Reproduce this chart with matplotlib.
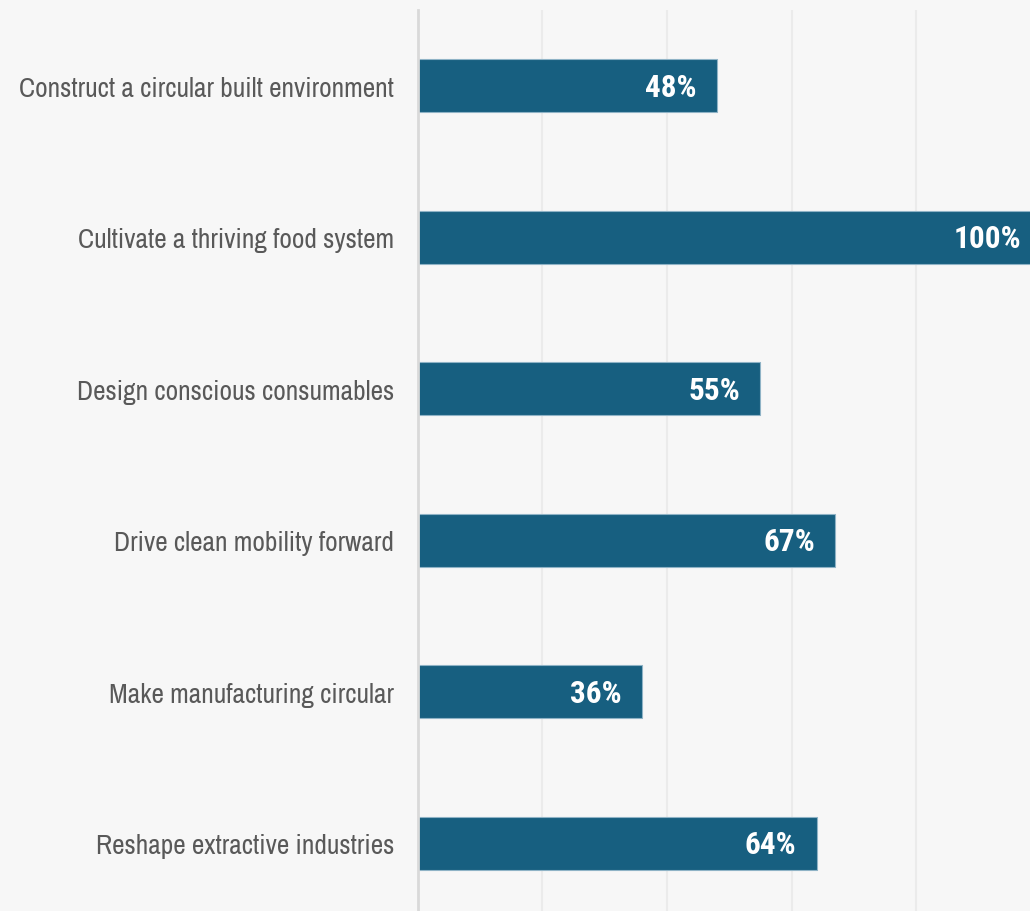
import matplotlib
matplotlib.use("Agg")
import matplotlib.pyplot as plt

# Share of companies per circular economy theme (%)
themes = [
    "Construct a circular built environment",
    "Cultivate a thriving food system",
    "Design conscious consumables",
    "Drive clean mobility forward",
    "Make manufacturing circular",
    "Reshape extractive industries",
]
shares = [48, 100, 55, 67, 36, 64]
value_labels = ["48%", "100%", "55%", "67%", "36%", "64%"]

plt.rcParams["font.family"] = ["Archivo Narrow", "Roboto Condensed", "DejaVu Sans"]

bg = "#f7f7f7"
bar_color = "#175f80"

fig = plt.figure(figsize=(10.30, 9.12), dpi=100, facecolor=bg)
ax = fig.add_axes([417.5 / 1030, -8 / 912, 623.5 / 1030, 909 / 912])
ax.set_facecolor(bg)

y = range(len(themes))
ax.barh(y, shares, height=0.35, color=bar_color, edgecolor="#8fb3c6",
        linewidth=0.8, zorder=3)

for yi, v, lab in zip(y, shares, value_labels):
    ax.annotate(lab, (v, yi), xytext=(-20, -1), textcoords="offset pixels",
                ha="right", va="center", color="white", fontsize=22.5,
                fontweight="bold", family=["Roboto Condensed", "DejaVu Sans"],
                zorder=4)

ax.set_xlim(0, 100)
ax.set_ylim(len(themes) - 0.5, -0.5)
ax.set_xticks([20, 40, 60, 80])
ax.xaxis.grid(True, color="#ebebeb", linewidth=1.5, zorder=0)
ax.tick_params(axis="x", length=0, labelbottom=False)

ax.set_yticks(list(y))
ax.set_yticklabels(themes, fontsize=19.7, color="#595959")
ax.tick_params(axis="y", length=0, pad=17)

for side in ["top", "right", "bottom"]:
    ax.spines[side].set_visible(False)
ax.spines["left"].set_color("#d9d9d9")
ax.spines["left"].set_linewidth(2)
ax.spines["left"].set_zorder(5)

fig.savefig("out.png", dpi=100, facecolor=bg)
